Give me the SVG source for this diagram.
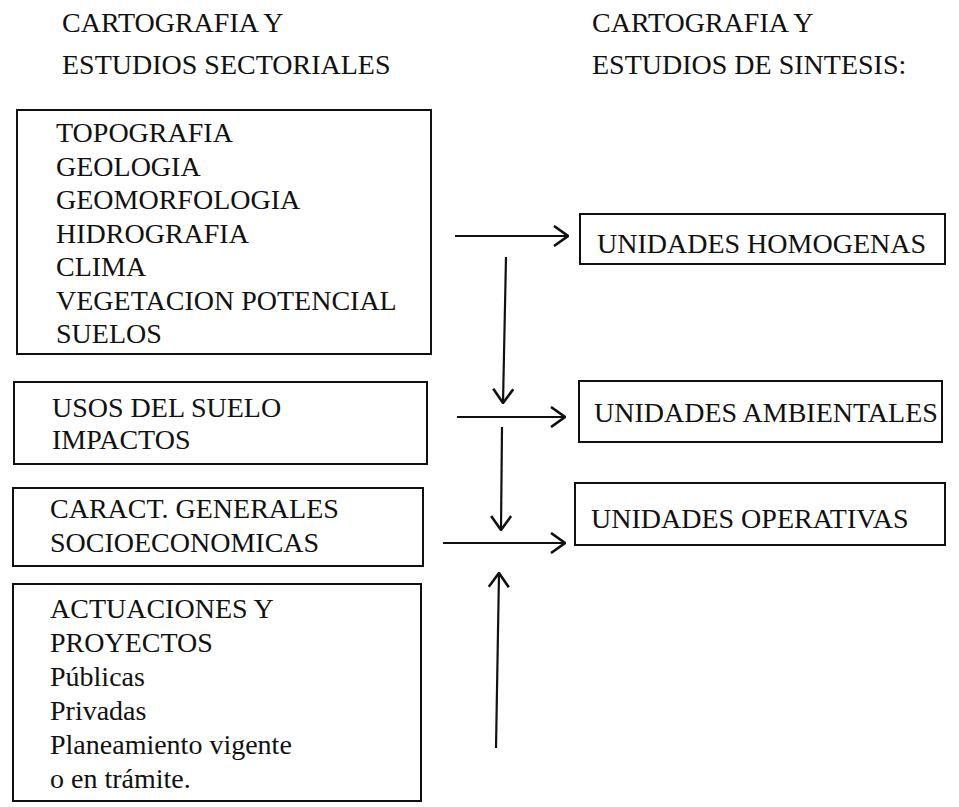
<svg xmlns="http://www.w3.org/2000/svg" width="959" height="807" viewBox="0 0 959 807">
<style>
text{font-family:"Liberation Serif","Times New Roman",serif;font-size:28px;fill:#111}
.box{fill:none;stroke:#111;stroke-width:2}
.ln{fill:none;stroke:#111;stroke-width:2.2}
</style>
<defs>
<marker id="arr" viewBox="0 0 16 22" refX="15" refY="11" markerWidth="16" markerHeight="22" markerUnits="userSpaceOnUse" orient="auto">
<path d="M1,1 L15,11 L1,21" fill="none" stroke="#111" stroke-width="2.6"/>
</marker>
</defs>
<rect width="959" height="807" fill="#fff"/>
<g id="title-left">
<text x="62" y="32">CARTOGRAFIA Y</text>
<text x="62" y="74">ESTUDIOS SECTORIALES</text>
</g>
<g id="title-right">
<text x="592" y="32">CARTOGRAFIA Y</text>
<text x="592" y="74">ESTUDIOS DE SINTESIS:</text>
</g>
<g id="box-sectoriales">
<rect class="box" x="17" y="110" width="414" height="244"/>
<text x="56" y="142">TOPOGRAFIA</text>
<text x="56" y="175.5">GEOLOGIA</text>
<text x="56" y="209">GEOMORFOLOGIA</text>
<text x="56" y="242.5">HIDROGRAFIA</text>
<text x="56" y="276">CLIMA</text>
<text x="56" y="309.5">VEGETACION POTENCIAL</text>
<text x="56" y="343">SUELOS</text>
</g>
<g id="box-usos">
<rect class="box" x="14" y="382" width="413" height="82"/>
<text x="52" y="417">USOS DEL SUELO</text>
<text x="52" y="449">IMPACTOS</text>
</g>
<g id="box-caract">
<rect class="box" x="13" y="488" width="410" height="78"/>
<text x="50" y="518">CARACT. GENERALES</text>
<text x="50" y="552">SOCIOECONOMICAS</text>
</g>
<g id="box-actuaciones">
<rect class="box" x="13" y="584" width="408" height="217"/>
<text x="50" y="618">ACTUACIONES Y</text>
<text x="50" y="652">PROYECTOS</text>
<text x="50" y="686">Públicas</text>
<text x="50" y="720">Privadas</text>
<text x="50" y="754">Planeamiento vigente</text>
<text x="50" y="788">o en trámite.</text>
</g>
<g id="unidades-homogenas">
<rect class="box" x="580" y="214" width="365" height="50"/>
<text x="597" y="253">UNIDADES HOMOGENAS</text>
</g>
<g id="unidades-ambientales">
<rect class="box" x="579" y="381" width="363" height="61"/>
<text x="594" y="422">UNIDADES AMBIENTALES</text>
</g>
<g id="unidades-operativas">
<rect class="box" x="575" y="483" width="370" height="62"/>
<text x="591" y="528">UNIDADES OPERATIVAS</text>
</g>
<g id="connectors">
<line class="ln" x1="455" y1="236" x2="568" y2="236" marker-end="url(#arr)"/>
<line class="ln" x1="506" y1="257" x2="503" y2="403" marker-end="url(#arr)"/>
<line class="ln" x1="457" y1="417" x2="565" y2="417" marker-end="url(#arr)"/>
<line class="ln" x1="502" y1="427" x2="501" y2="530" marker-end="url(#arr)"/>
<line class="ln" x1="443" y1="543" x2="565" y2="543" marker-end="url(#arr)"/>
<line class="ln" x1="496" y1="748" x2="499" y2="573" marker-end="url(#arr)"/>
</g>
</svg>
